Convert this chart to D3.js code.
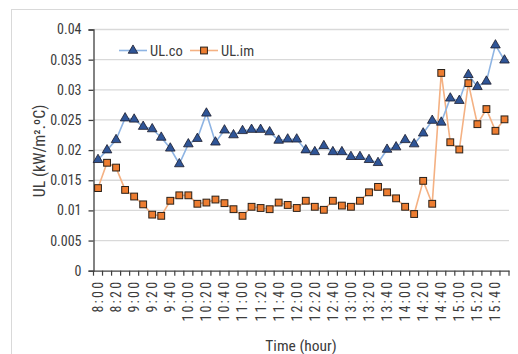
<!DOCTYPE html>
<html>
<head>
<meta charset="utf-8">
<script src="https://cdn.jsdelivr.net/npm/d3@7"></script>
<style>
  body { margin: 0; background: #fff; }
  svg text { font-family: "Liberation Sans Narrow", "Roboto Condensed", "Liberation Sans", sans-serif; fill: #3c3c3c; }
</style>
</head>
<body>
<svg id="chart" width="518" height="354"></svg>
<script>
// Sampling times (every category); only every second one is labelled on the axis
const times = ["8:00","8:10","8:20","8:40","9:00","9:10","9:20","9:30","9:40","9:50",
  "10:00","10:10","10:20","10:30","10:40","10:50","11:00","11:10","11:20","11:30","11:40","11:50",
  "12:00","12:10","12:20","12:30","12:40","12:50","13:00","13:10","13:20","13:30","13:40","13:50",
  "14:00","14:10","14:20","14:30","14:40","14:50","15:00","15:10","15:20","15:30","15:40","15:50"];

// Overall heat loss coefficient UL (kW/m².ºC)
const ulCo = [0.0184,0.0200,0.0217,0.0253,0.0251,0.0239,0.0235,0.0221,0.0203,0.0177,
  0.0210,0.0219,0.0261,0.0213,0.0233,0.0225,0.0232,0.0234,0.0234,0.0230,0.0216,0.0218,
  0.0218,0.0200,0.0197,0.0207,0.0197,0.0197,0.0189,0.0189,0.0184,0.0179,0.0201,0.0205,
  0.0217,0.0210,0.0228,0.0249,0.0246,0.0286,0.0282,0.0325,0.0305,0.0314,0.0374,0.0349];
const ulIm = [0.0137,0.0179,0.0171,0.0134,0.0123,0.0110,0.0093,0.0091,0.0116,0.0125,
  0.0125,0.0111,0.0113,0.0118,0.0112,0.0102,0.0091,0.0106,0.0104,0.0102,0.0113,0.0109,
  0.0104,0.0116,0.0106,0.0101,0.0116,0.0108,0.0106,0.0116,0.0130,0.0139,0.0130,0.0120,
  0.0106,0.0094,0.0149,0.0111,0.0328,0.0213,0.0201,0.0311,0.0243,0.0268,0.0232,0.0251];

const yTicks = [0, 0.005, 0.01, 0.015, 0.02, 0.025, 0.03, 0.035, 0.04];
const seriesNames = ["UL.co", "UL.im"];

const svg = d3.select("#chart");

// outer chart frame
svg.append("rect").attr("x", 11.5).attr("y", 9.5).attr("width", 520).attr("height", 360)
  .attr("fill", "#fff").attr("stroke", "#d9d9d9");

const x = d3.scaleBand().domain(times).range([93.5, 509]).padding(0);
const y = d3.scaleLinear().domain([0, 0.04]).range([270.7, 29.5]);
const cx = d => x(d) + x.bandwidth() / 2;

// horizontal gridlines
svg.append("g").selectAll("line").data(yTicks.slice(1)).join("line")
  .attr("x1", 93.5).attr("x2", 509)
  .attr("y1", d => y(d)).attr("y2", d => y(d))
  .attr("stroke", "#d9d9d9").attr("stroke-width", 1.3);

// y axis
const yAxis = svg.append("g").attr("transform", "translate(93.5,0)")
  .call(d3.axisLeft(y).tickValues(yTicks).tickSize(5).tickPadding(7)
    .tickFormat(d => d === 0 ? "0" : String(+d.toFixed(3))));
yAxis.select(".domain").attr("stroke", "#404040").attr("stroke-width", 1.3);
yAxis.selectAll(".tick line").attr("stroke", "#404040").attr("stroke-width", 1.3);
yAxis.selectAll("text").style("font-size", "14px").attr("fill", "#3c3c3c");

// x axis: labels on every second category, ticks on category boundaries
const xAxis = svg.append("g").attr("transform", `translate(0,${y(0)})`)
  .call(d3.axisBottom(x).tickSize(0).tickPadding(0)
    .tickFormat((d, i) => i % 2 === 0 ? d : ""));
xAxis.select(".domain").attr("stroke", "#404040").attr("stroke-width", 1.3);
xAxis.selectAll("text")
  .style("font-size", "14px")
  .style("letter-spacing", "2.2px")
  .attr("fill", "#3c3c3c")
  .attr("text-anchor", "end")
  .attr("dy", "0.35em")
  .attr("transform", "translate(0,9) rotate(-90)")
  .attr("x", 0).attr("y", 0);

svg.append("g").selectAll("line").data(d3.range(times.length + 1)).join("line")
  .attr("x1", i => 93.5 + i * x.step()).attr("x2", i => 93.5 + i * x.step())
  .attr("y1", y(0)).attr("y2", y(0) + 5)
  .attr("stroke", "#404040").attr("stroke-width", 1.2);

// axis titles
svg.append("text").attr("x", 301).attr("y", 351).attr("text-anchor", "middle")
  .style("font-size", "15.5px").attr("fill", "#3c3c3c").text("Time (hour)");
svg.append("text").attr("transform", "translate(44.5,151) rotate(-90)").attr("text-anchor", "middle")
  .style("font-size", "16px").attr("fill", "#3c3c3c").text("UL (kW/m².ºC)");

// series
const lineGen = d3.line().x((d, i) => cx(times[i])).y(d => y(d));

svg.append("path").datum(ulIm).attr("d", lineGen)
  .attr("fill", "none").attr("stroke", "#f4b183").attr("stroke-width", 1.6);
svg.append("path").datum(ulCo).attr("d", lineGen)
  .attr("fill", "none").attr("stroke", "#8eb4e3").attr("stroke-width", 1.6);

const tri = d3.symbol().type(d3.symbolTriangle).size(40);

svg.append("g").selectAll("path").data(ulCo).join("path")
  .attr("d", tri)
  .attr("transform", (d, i) => `translate(${cx(times[i])},${y(d)})`)
  .attr("fill", "#2f5597").attr("stroke", "#1a1a2a").attr("stroke-width", 0.8);

svg.append("g").selectAll("rect").data(ulIm).join("rect")
  .attr("x", (d, i) => cx(times[i]) - 3.4).attr("y", d => y(d) - 3.4)
  .attr("width", 6.8).attr("height", 6.8)
  .attr("fill", "#ed7d31").attr("stroke", "#2a2018").attr("stroke-width", 1);

// legend
const lg = svg.append("g");
lg.append("line").attr("x1", 119).attr("x2", 147).attr("y1", 50.5).attr("y2", 50.5)
  .attr("stroke", "#8eb4e3").attr("stroke-width", 1.6);
lg.append("path").attr("d", tri).attr("transform", "translate(133,50.5)")
  .attr("fill", "#2f5597").attr("stroke", "#1a1a2a").attr("stroke-width", 0.8);
lg.append("text").attr("x", 150).attr("y", 55.5).style("font-size", "14.5px")
  .attr("fill", "#3c3c3c").text(seriesNames[0]);
lg.append("line").attr("x1", 190).attr("x2", 218).attr("y1", 50.5).attr("y2", 50.5)
  .attr("stroke", "#f4b183").attr("stroke-width", 1.6);
lg.append("rect").attr("x", 204 - 3.4).attr("y", 50.5 - 3.4).attr("width", 6.8).attr("height", 6.8)
  .attr("fill", "#ed7d31").attr("stroke", "#2a2018").attr("stroke-width", 1);
lg.append("text").attr("x", 221).attr("y", 55.5).style("font-size", "14.5px")
  .attr("fill", "#3c3c3c").text(seriesNames[1]);
</script>
</body>
</html>
